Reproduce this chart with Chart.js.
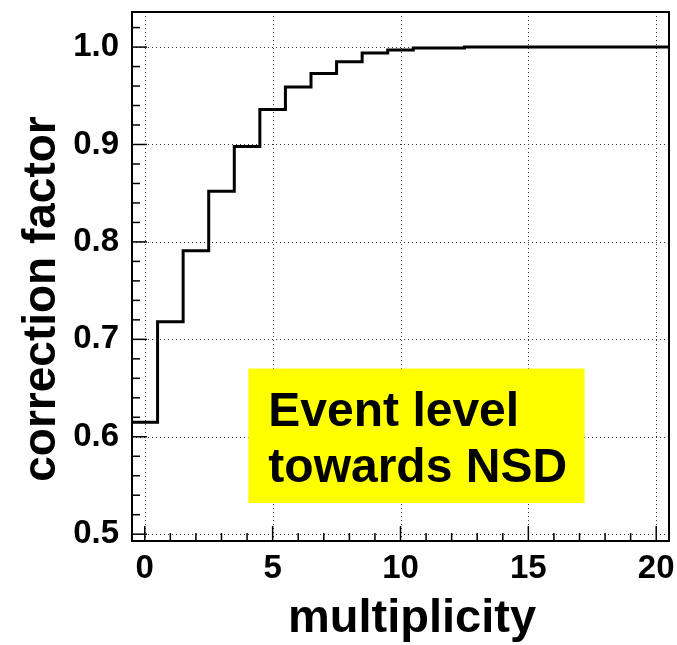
<!DOCTYPE html>
<html>
<head>
<meta charset="utf-8">
<script src="https://cdn.jsdelivr.net/npm/chart.js@4.4.1/dist/chart.umd.min.js"></script>
<style>
  body { margin: 0; background: #fff; }
  #wrap { width: 677px; height: 645px; }
</style>
</head>
<body>
<div id="wrap"><canvas id="corrChart" width="677" height="645"></canvas></div>
<script>
// bin centres (multiplicity) and correction factor per bin
const multiplicity = [0, 1, 2, 3, 4, 5, 6, 7, 8, 9, 10, 11, 12, 13, 14, 15, 16, 17, 18, 19, 20];
const correction = [0.615, 0.718, 0.791, 0.852, 0.898, 0.936, 0.959, 0.973, 0.985, 0.994, 0.997,
                    0.999, 0.999, 1.0, 1.0, 1.0, 1.0, 1.0, 1.0, 1.0, 1.0];
const xTicks = [0, 5, 10, 15, 20];
const yTicks = [0.5, 0.6, 0.7, 0.8, 0.9, 1.0];
const boxLines = ['Event level', 'towards NSD'];

const FONT = '"Liberation Sans", Arial, Helvetica, sans-serif';
Chart.defaults.font.family = FONT;
Chart.defaults.color = '#000';

// histogram: one point per low bin edge, plus the last upper edge
const binWidth = 1;
const histPoints = multiplicity.map((m, i) => ({ x: m - binWidth / 2, y: correction[i] }));
histPoints.push({ x: multiplicity[multiplicity.length - 1] + binWidth / 2, y: correction[correction.length - 1] });

const rootStyle = {
  id: 'rootStyle',
  beforeDatasetsDraw(chart) {
    const { ctx, chartArea: a, scales: { x, y } } = chart;
    ctx.save();
    ctx.strokeStyle = '#333';
    ctx.lineWidth = 1;
    ctx.setLineDash([1, 3]);
    xTicks.forEach(v => {
      const px = Math.round(x.getPixelForValue(v)) + 0.5;
      ctx.beginPath(); ctx.moveTo(px, a.top); ctx.lineTo(px, a.bottom); ctx.stroke();
    });
    yTicks.forEach(v => {
      const py = Math.round(y.getPixelForValue(v)) + 0.5;
      ctx.beginPath(); ctx.moveTo(a.left, py); ctx.lineTo(a.right, py); ctx.stroke();
    });
    ctx.restore();
  },
  afterDatasetsDraw(chart) {
    const { ctx, chartArea: a, scales: { x, y } } = chart;
    ctx.save();
    // ticks inside the frame
    ctx.strokeStyle = '#000';
    ctx.lineWidth = 1.5;
    for (let v = 0; v <= 20; v++) {
      const px = x.getPixelForValue(v);
      const len = v % 5 === 0 ? 15 : 8;
      ctx.beginPath(); ctx.moveTo(px, a.bottom); ctx.lineTo(px, a.bottom - len); ctx.stroke();
    }
    for (let k = 25; k <= 51; k++) {
      const v = k * 0.02;
      const py = y.getPixelForValue(v);
      if (py < a.top) continue;
      const len = k % 5 === 0 ? 15 : 8;
      ctx.beginPath(); ctx.moveTo(a.left, py); ctx.lineTo(a.left + len, py); ctx.stroke();
    }
    // frame
    ctx.lineWidth = 2;
    ctx.strokeRect(a.left, a.top, a.right - a.left, a.bottom - a.top);

    // yellow label box
    const bx0 = x.getPixelForValue(4.05), bx1 = x.getPixelForValue(17.2);
    const by0 = y.getPixelForValue(0.670), by1 = y.getPixelForValue(0.532);
    ctx.fillStyle = '#ffff00';
    ctx.fillRect(bx0, by0, bx1 - bx0, by1 - by0);
    ctx.fillStyle = '#000';
    ctx.font = 'bold 48px ' + FONT;
    ctx.textAlign = 'left';
    ctx.textBaseline = 'alphabetic';
    ctx.fillText(boxLines[0], bx0 + 20, by0 + 57);
    ctx.fillText(boxLines[1], bx0 + 20, by0 + 113);

    // axis titles
    ctx.font = 'bold 47px ' + FONT;
    ctx.textAlign = 'center';
    ctx.fillText('multiplicity', 412, 632);
    ctx.font = 'bold 46px ' + FONT;
    ctx.translate(55, 299);
    ctx.rotate(-Math.PI / 2);
    ctx.fillText('correction factor', 0, 0);
    ctx.restore();
  }
};

new Chart(document.getElementById('corrChart'), {
  type: 'line',
  data: {
    datasets: [{
      data: histPoints,
      stepped: true,
      borderColor: '#000',
      borderWidth: 3,
      pointRadius: 0,
      fill: false,
      clip: false
    }]
  },
  options: {
    responsive: false,
    animation: false,
    layout: { padding: { top: 12, right: 8, left: 0, bottom: 0 } },
    plugins: { legend: { display: false }, tooltip: { enabled: false } },
    scales: {
      x: {
        type: 'linear',
        min: -0.5,
        max: 20.5,
        afterBuildTicks: s => { s.ticks = xTicks.map(v => ({ value: v })); },
        afterFit: s => { s.height = 104; s.paddingLeft = 0; s.paddingRight = 0; },
        grid: { display: false },
        border: { display: false },
        ticks: { font: { size: 33, weight: 'bold' }, padding: 0, maxRotation: 0, autoSkip: false }
      },
      y: {
        min: 0.493,
        max: 1.036,
        afterBuildTicks: s => { s.ticks = yTicks.map(v => ({ value: v })); },
        afterFit: s => { s.width = 132; s.paddingTop = 0; s.paddingBottom = 0; },
        grid: { display: false },
        border: { display: false },
        ticks: {
          font: { size: 33, weight: 'bold' },
          padding: 5,
          callback: v => v.toFixed(1)
        }
      }
    }
  },
  plugins: [rootStyle]
});
</script>
</body>
</html>
